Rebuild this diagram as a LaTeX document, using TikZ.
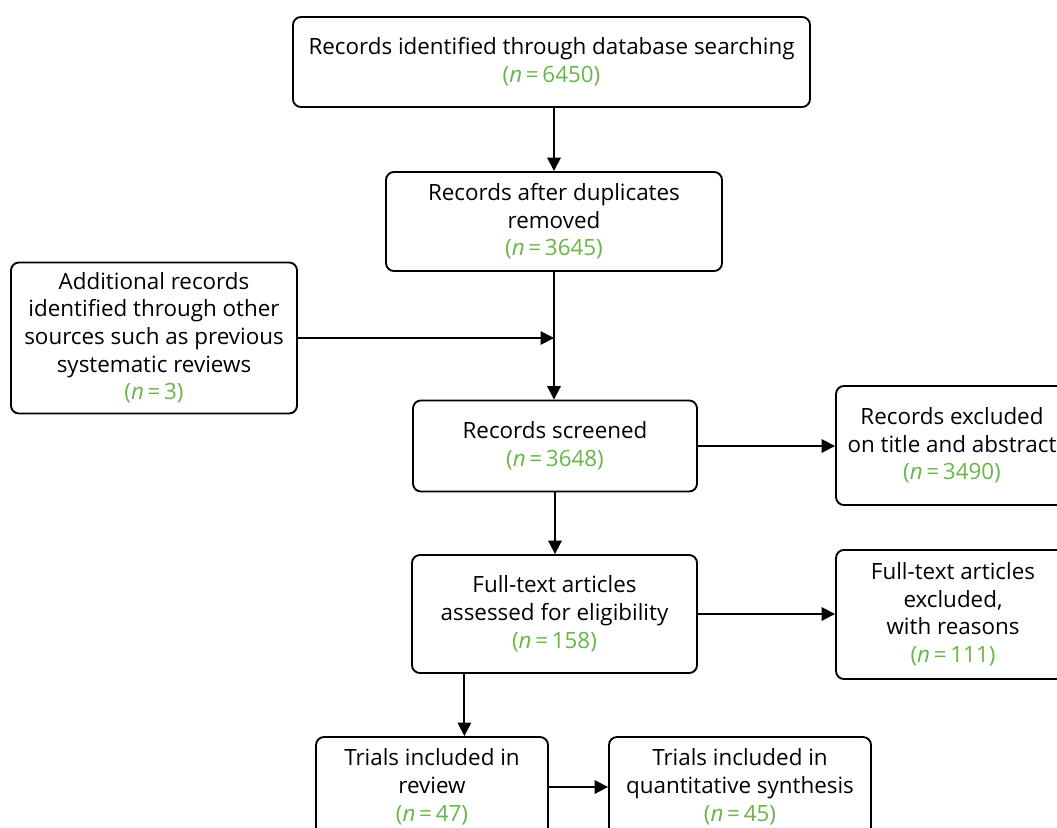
\documentclass[tikz,border=0pt]{standalone}
\usepackage{fontspec}
\setmainfont{Open Sans}
\usepackage{tikz}
\usetikzlibrary{calc}
\usetikzlibrary{arrows.meta}
\usetikzlibrary{positioning}
\definecolor{leafgreen}{RGB}{104, 182, 72}
\newcommand{\ncount}[1]{\textcolor{leafgreen}{(\textit{n}\,=\,#1)}}

\begin{document}
\begin{tikzpicture}[x=0.75pt, y=-0.75pt,
        every node/.style={font=\fontsize{16.8}{20.8}\selectfont, align=center, inner sep=0pt},
        recbox/.style={draw, line width=1.4pt, rounded corners=6pt, text depth=3pt},
        flow/.style={line width=1.4pt, -{Triangle[length=10pt, width=10pt]}}]
    \useasboundingbox (0,0) rectangle (1057,828);
    % main column
    \node[recbox, minimum width=387.8pt, minimum height=67.5pt] (ident)    at (551.5, 62.0)
        {Records identified through database searching\\ \ncount{6450}};
    \node[recbox, minimum width=252.0pt, minimum height=74.3pt] (dedup)    at (554.0,221.5)
        {Records after duplicates\\ removed\\ \ncount{3645}};
    \node[recbox, minimum width=214.5pt, minimum height=113.3pt] (other)   at (154.0,338.0)
        {Additional records\\ identified through other\\ sources such as previous\\ systematic reviews\\ \ncount{3}};
    \node[recbox, minimum width=213.0pt, minimum height=68.3pt] (screen)   at (555.0,446.0)
        {Records screened\\ \ncount{3648}};
    \node[recbox, minimum width=174.0pt, minimum height=89.3pt] (exscreen) at (952.0,445.5)
        {Records excluded\\ on title and abstract\\ \ncount{3490}};
    \node[recbox, minimum width=213.8pt, minimum height=88.5pt] (fulltext) at (554.5,614.0)
        {Full-text articles\\ assessed for eligibility\\ \ncount{158}};
    \node[recbox, minimum width=175.5pt, minimum height=96.8pt] (exfull)   at (953.0,614.5)
        {Full-text articles\\ excluded,\\ with reasons\\ \ncount{111}};
    \node[recbox, minimum width=174.0pt, minimum height=75.0pt] (review)   at (432.0,787.0)
        {Trials included in\\ review\\ \ncount{47}};
    \node[recbox, minimum width=196.5pt, minimum height=75.0pt] (quant)    at (740.0,787.0)
        {Trials included in\\ quantitative synthesis\\ \ncount{45}};
    % connectors
    \coordinate (merge) at (dedup.south |- other.east);
    \draw[flow] (ident.south -| dedup.south) -- (dedup.north);
    \draw[flow] (dedup.south) -- (screen.north -| dedup.south);
    \draw[flow] (other.east) -- (merge);
    \draw[flow] (screen.east) -- (exscreen.west |- screen.east);
    \draw[flow] (screen.south) -- (fulltext.north -| screen.south);
    \draw[flow] (fulltext.east) -- (exfull.west |- fulltext.east);
    \draw[flow] ($(fulltext.south west)!0.186!(fulltext.south east)$) coordinate (drop) -- (review.north -| drop);
    \draw[flow] (review.east) -- (quant.west);
\end{tikzpicture}
\end{document}
